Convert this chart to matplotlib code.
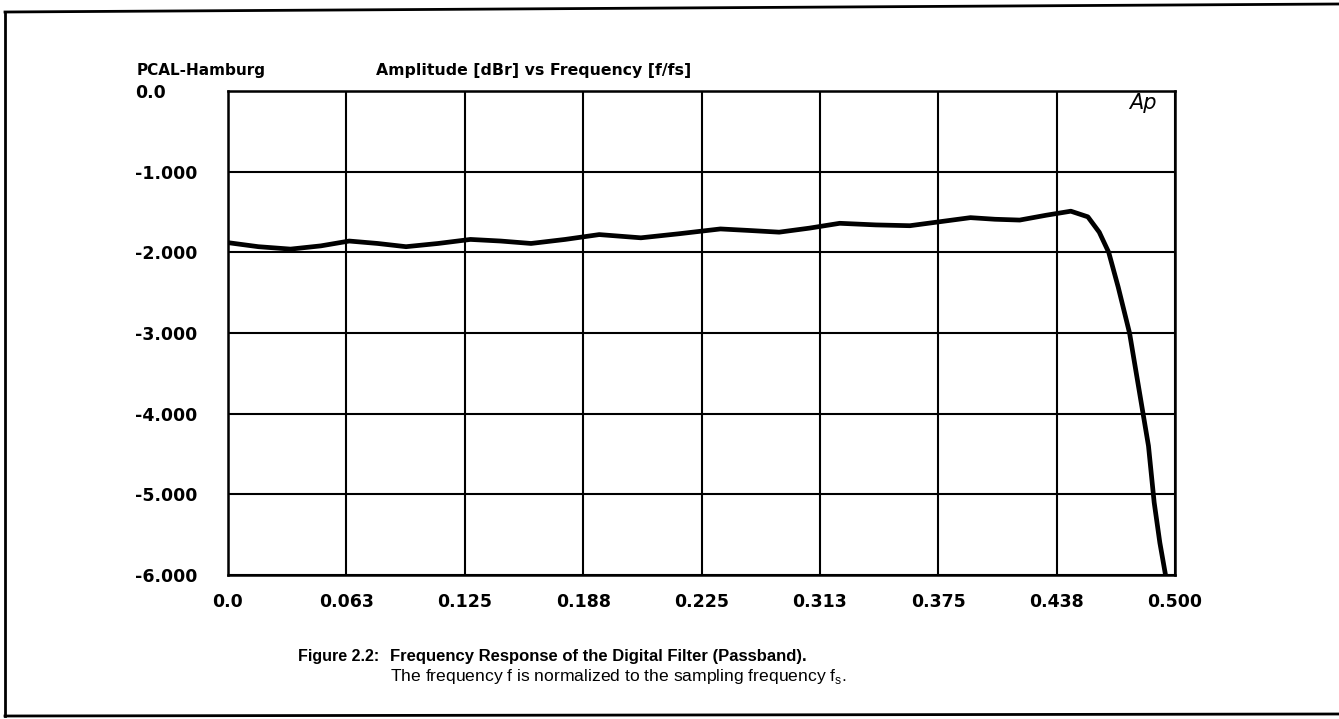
import matplotlib
matplotlib.use("Agg")
import matplotlib.pyplot as plt
from matplotlib.lines import Line2D
import numpy as np

# ---- data ----
freq = [0.000, 0.016, 0.033, 0.049, 0.064, 0.079, 0.094, 0.111, 0.128, 0.144,
        0.160, 0.178, 0.196, 0.207, 0.218, 0.238, 0.260, 0.276, 0.291, 0.307,
        0.323, 0.342, 0.360, 0.376, 0.392, 0.405, 0.418, 0.432, 0.445, 0.454,
        0.460, 0.465, 0.470, 0.476, 0.481, 0.486, 0.489, 0.492, 0.495]
amp = [-1.88, -1.93, -1.96, -1.92, -1.86, -1.89, -1.93, -1.89, -1.84, -1.86,
       -1.89, -1.84, -1.78, -1.80, -1.82, -1.77, -1.71, -1.73, -1.75, -1.70,
       -1.64, -1.66, -1.67, -1.62, -1.57, -1.59, -1.60, -1.54, -1.49, -1.56,
       -1.75, -2.00, -2.43, -3.00, -3.70, -4.40, -5.10, -5.60, -6.00]

xtick_vals = [0.0, 0.0625, 0.125, 0.1875, 0.25, 0.3125, 0.375, 0.4375, 0.5]
xtick_labels = ["0.0", "0.063", "0.125", "0.188", "0.225", "0.313", "0.375", "0.438", "0.500"]
ytick_vals = [0, -1, -2, -3, -4, -5, -6]
ytick_labels = ["0.0", "-1.000", "-2.000", "-3.000", "-4.000", "-5.000", "-6.000"]

W, H = 1339, 719
fig = plt.figure(figsize=(W / 100, H / 100), dpi=100)
fig.patch.set_facecolor("white")

def fx(px):
    return px / W

def fy(py):
    return 1 - py / H

ax = fig.add_axes([fx(228), fy(575), fx(1175) - fx(228), fy(91) - fy(575)])
ax.plot(freq, amp, color="black", lw=3.4, solid_capstyle="butt", clip_on=True, zorder=3)
ax.set_xlim(0, 0.5)
ax.set_ylim(-6, 0)
ax.set_xticks(xtick_vals)
ax.set_xticklabels(xtick_labels)
ax.set_yticks(ytick_vals)
ax.set_yticklabels(ytick_labels)
ax.grid(True, color="black", lw=1.5)
ax.set_axisbelow(True)
for s in ax.spines.values():
    s.set_linewidth(1.8)
    s.set_color("black")
ax.tick_params(axis="both", length=0)
ax.tick_params(axis="y", pad=67)
ax.tick_params(axis="x", pad=13)
for lab in ax.get_yticklabels():
    lab.set_ha("left")
    lab.set_fontfamily("DejaVu Sans")
    lab.set_fontweight("bold")
    lab.set_fontsize(12.5)
for lab in ax.get_xticklabels():
    lab.set_fontfamily("DejaVu Sans")
    lab.set_fontweight("bold")
    lab.set_fontsize(12.5)

ax.text(1 - 18 / 947, 1 - 12 / 484, "Ap", transform=ax.transAxes, ha="right", va="center",
        fontsize=15, style="italic", family="DejaVu Sans")

# header texts
fig.text(fx(137), fy(70), "PCAL-Hamburg", ha="left", va="center",
         fontsize=11, fontweight="bold", family="DejaVu Sans")
fig.text(fx(376), fy(70), "Amplitude [dBr] vs Frequency [f/fs]", ha="left", va="center",
         fontsize=11.3, fontweight="bold", family="DejaVu Sans")

# caption
fig.text(fx(298), fy(657), "Figure 2.2:", ha="left", va="center",
         fontsize=11.5, fontweight="bold", family="Liberation Sans")
fig.text(fx(390), fy(657), "Frequency Response of the Digital Filter (Passband).", ha="left",
         va="center", fontsize=12, fontweight="bold", family="Liberation Sans")
fig.text(fx(390), fy(676), r"The frequency f is normalized to the sampling frequency f$_{\mathregular{s}}$.",
         ha="left", va="center", fontsize=12.6, family="Liberation Sans")

# page frame
fig.add_artist(Line2D([fx(5), fx(5)], [fy(12), fy(716)], color="black", lw=2))
fig.add_artist(Line2D([fx(5), fx(1339)], [fy(12), fy(4)], color="black", lw=2))
fig.add_artist(Line2D([fx(5), fx(1339)], [fy(716), fy(714)], color="black", lw=2))

fig.savefig("out.png", dpi=100, facecolor="white")
